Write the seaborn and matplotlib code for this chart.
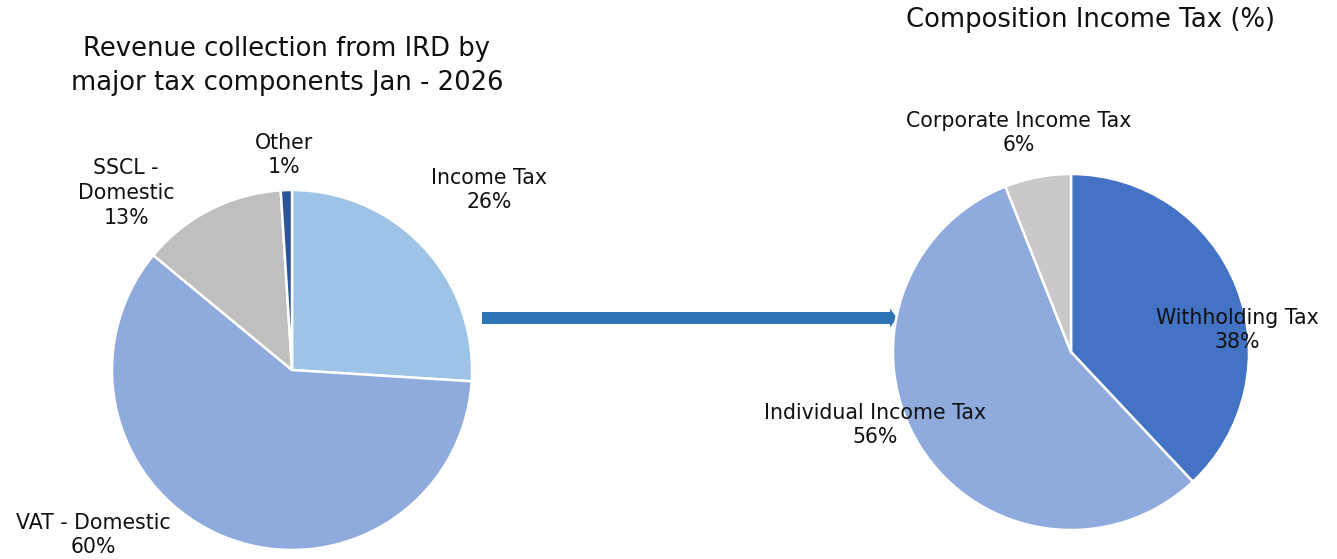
import matplotlib
matplotlib.use("Agg")
import matplotlib.pyplot as plt
import seaborn as sns
from matplotlib.patches import FancyArrow

sns.set_theme(style="white")
plt.rcParams['font.family'] = ['DejaVu Sans']

# ---- data ----
left_labels = ["Income Tax", "VAT - Domestic", "SSCL -\nDomestic", "Other"]
left_values = [26, 60, 13, 1]
left_colors = ["#9DC3E6", "#8FAADC", "#BFBFBF", "#2F5597"]

right_labels = ["Withholding Tax", "Individual Income Tax", "Corporate Income Tax"]
right_values = [38, 56, 6]
right_colors = ["#4472C4", "#8FAADC", "#C9C9C9"]

left_title = "Revenue collection from IRD by\nmajor tax components Jan - 2026"
right_title = "Composition Income Tax (%)"

W, H = 1337, 559
fig = plt.figure(figsize=(W / 100, H / 100), dpi=100)
fig.patch.set_facecolor("white")


def pie_axes(cx, cy, r):
    ax = fig.add_axes([(cx - r) / W, 1 - (cy + r) / H, 2 * r / W, 2 * r / H])
    ax.set_xlim(-1, 1)
    ax.set_ylim(-1, 1)
    ax.axis("off")
    return ax


LBL = 14.8
TTL = 18.6

# left pie
axL = pie_axes(292, 370, 180)
axL.pie(left_values, colors=left_colors, startangle=90, counterclock=False,
        radius=1, wedgeprops=dict(edgecolor="white", linewidth=1.8))
axL.set_xlim(-1, 1)
axL.set_ylim(-1, 1)
left_pos = [(1.094, 1.0), (-1.106, -0.917), (-0.922, 0.983), (-0.044, 1.194)]
for lab, val, (x, y) in zip(left_labels, left_values, left_pos):
    axL.text(x, y, f"{lab}\n{val}%", ha="center", va="center", fontsize=LBL,
             color="#111111", linespacing=1.3, clip_on=False)

# right pie
axR = pie_axes(1071, 352, 178)
axR.pie(right_values, colors=right_colors, startangle=90, counterclock=False,
        radius=1, wedgeprops=dict(edgecolor="white", linewidth=1.8))
axR.set_xlim(-1, 1)
axR.set_ylim(-1, 1)
right_pos = [(0.933, 0.124), (-1.10, -0.41), (-0.292, 1.23)]
for lab, val, (x, y) in zip(right_labels, right_values, right_pos):
    axR.text(x, y, f"{lab}\n{val}%", ha="center", va="center", fontsize=LBL,
             color="#111111", linespacing=1.3, clip_on=False)

# titles
fig.text(287 / W, 1 - 66 / H, left_title, ha="center", va="center",
         fontsize=TTL, color="#111111", linespacing=1.4)
fig.text(1090 / W, 1 - 20 / H, right_title, ha="center", va="center",
         fontsize=TTL, color="#111111")

# arrow
axA = fig.add_axes([0, 0, 1, 1], zorder=-1)
axA.set_xlim(0, W)
axA.set_ylim(H, 0)
axA.axis("off")
axA.add_patch(FancyArrow(482, 318, 415, 0, width=12, head_width=19,
                         head_length=7, length_includes_head=True,
                         color="#2E75B6", linewidth=0))

fig.savefig("out.png", dpi=100, facecolor="white")
